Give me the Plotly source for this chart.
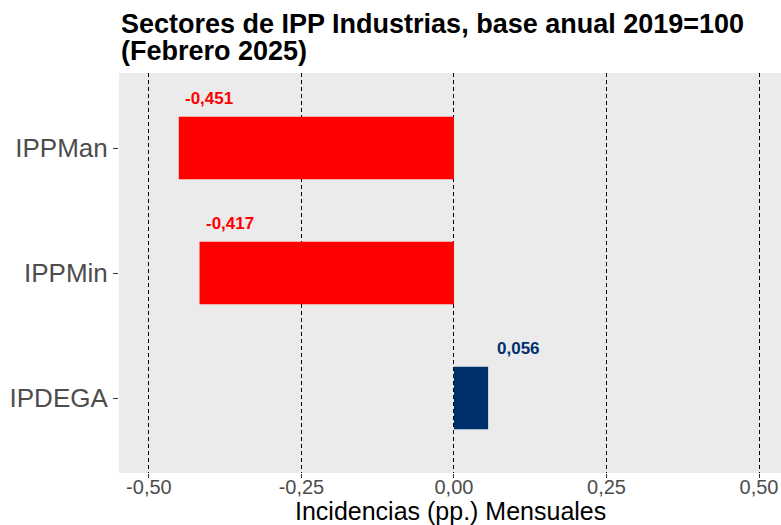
import plotly.graph_objects as go

categories = ["IPPMan", "IPPMin", "IPDEGA"]
values = [-0.451, -0.417, 0.056]
value_labels = ["-0,451", "-0,417", "0,056"]
tick_vals = [-0.50, -0.25, 0.00, 0.25, 0.50]
tick_text = ["-0,50", "-0,25", "0,00", "0,25", "0,50"]
title_lines = ["Sectores de IPP Industrias, base anual 2019=100", "(Febrero 2025)"]
x_title = "Incidencias (pp.) Mensuales"

RED = "#FF0000"
NAVY = "#002F6E"
colors = [RED if v < 0 else NAVY for v in values]

FONT = "Liberation Sans, Arial, sans-serif"

fig = go.Figure()
fig.add_trace(go.Bar(
    x=values, y=categories, orientation="h", width=0.5,
    marker=dict(color=colors, line=dict(width=0)),
    hoverinfo="skip", showlegend=False,
))

for v, c, lab, col in zip(values, categories, value_labels, colors):
    fig.add_annotation(
        x=v + 0.05, y=c, text=f"<b>{lab}</b>", showarrow=False,
        xanchor="center", yanchor="middle", yshift=50,
        font=dict(family=FONT, size=17, color=col),
    )

for line, ypos in zip(title_lines, [1.122, 1.056]):
    fig.add_annotation(
        xref="paper", yref="paper", x=0, y=ypos, xanchor="left", yanchor="middle",
        text=f"<b>{line}</b>", showarrow=False, align="left",
        font=dict(family=FONT, size=27, color="black"),
    )

fig.add_annotation(
    xref="paper", yref="paper", x=0.5, y=-0.096, xanchor="center", yanchor="middle",
    text=x_title, showarrow=False,
    font=dict(family=FONT, size=25, color="black"),
)

fig.update_layout(
    width=781, height=525,
    margin=dict(l=119, r=0, t=73, b=52),
    paper_bgcolor="white", plot_bgcolor="#EBEBEB",
    font=dict(family=FONT),
    bargap=0.5,
)

fig.update_xaxes(
    range=[-0.549, 0.536], tickvals=tick_vals, ticktext=tick_text,
    showgrid=True, gridcolor="black", griddash="4px,3px", gridwidth=0.7,
    zeroline=False, showline=False, automargin=False,
    ticks="outside", ticklen=4, tickcolor="#333333", tickwidth=1,
    ticklabelstandoff=-8,
    tickfont=dict(family=FONT, size=20, color="#4D4D4D"),
    fixedrange=True,
)
fig.update_yaxes(
    type="category", categoryorder="array", categoryarray=categories,
    range=[2.6, -0.6], showgrid=False, zeroline=False, showline=False,
    automargin=False,
    ticks="outside", ticklen=5, tickcolor="#333333", tickwidth=1,
    tickfont=dict(family=FONT, size=26, color="#4D4D4D"),
    fixedrange=True,
)

fig.write_html("out.html", config={"displayModeBar": False},
               post_script="document.body.style.margin='0';")
